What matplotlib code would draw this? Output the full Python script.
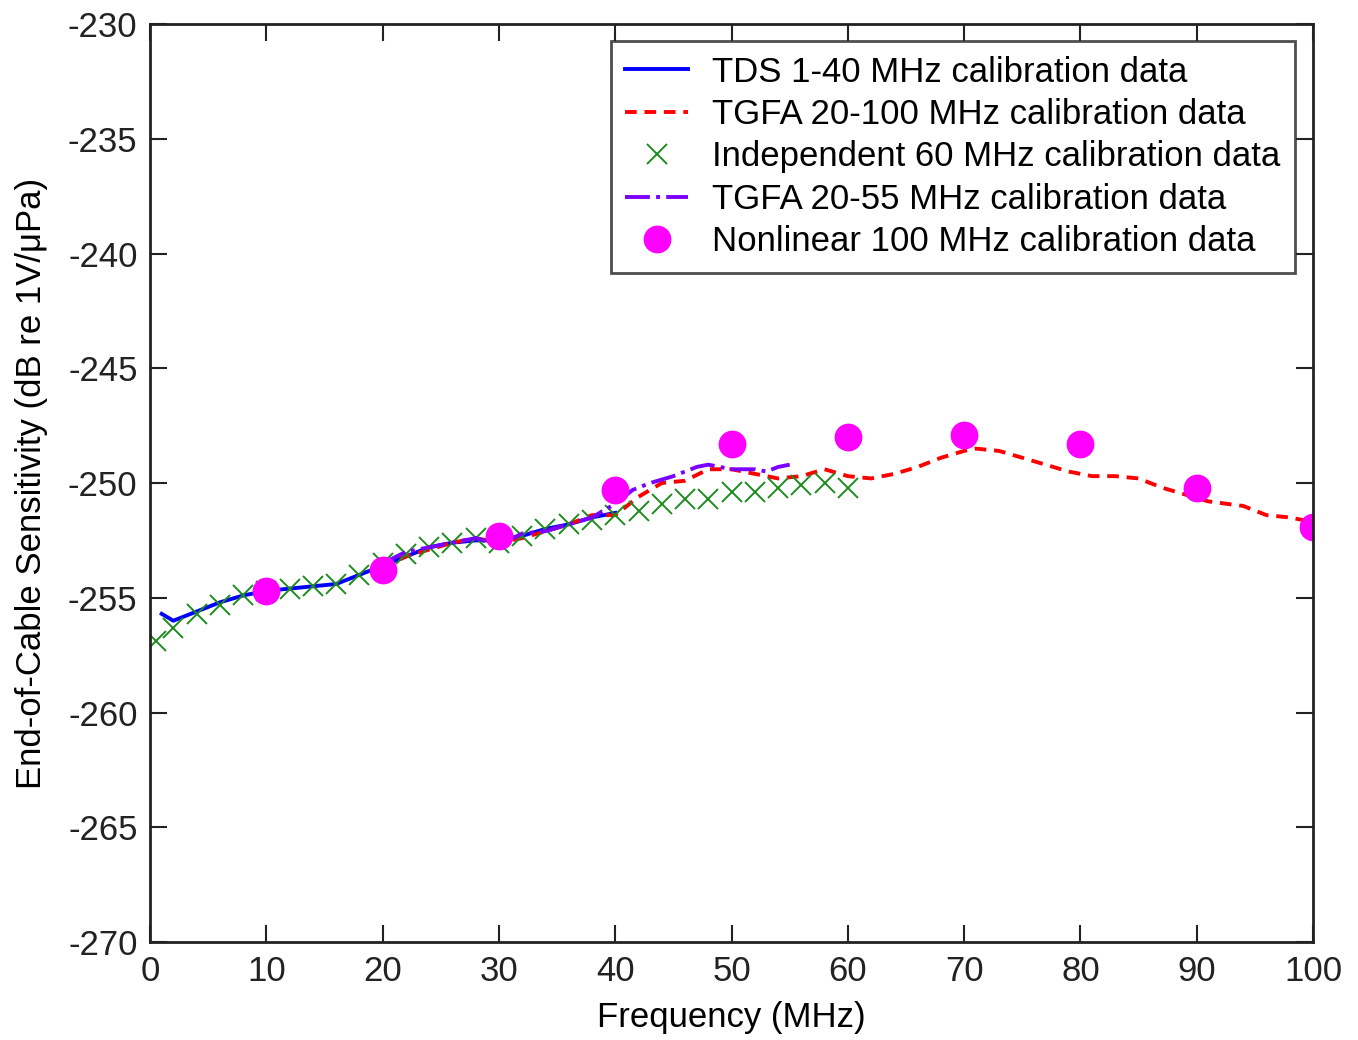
import numpy as np
import matplotlib
matplotlib.use("Agg")
import matplotlib.pyplot as plt

plt.rcParams['font.family'] = ['Liberation Sans Narrow', 'Liberation Sans', 'DejaVu Sans']
plt.rcParams['axes.unicode_minus'] = False

############################################
# data
############################################

# TDS 1-40 MHz
tds_f = [1, 2, 4, 6, 8, 10, 12, 14, 16, 18, 20, 22, 24, 26, 28, 30, 32, 34, 36, 38, 40]
tds_db = [-255.7, -256.0, -255.6, -255.2, -254.9, -254.7, -254.6, -254.5, -254.4, -254.0,
          -253.6, -253.2, -252.8, -252.6, -252.5, -252.5, -252.3, -252.0, -251.8, -251.5, -251.3]

# TGFA 20-100 MHz
tgfa_f = [20, 22, 24, 26, 28, 30, 32, 34, 36, 38, 40, 42, 44, 46, 48, 50, 52, 54, 56, 58, 60,
          62, 64, 66, 68, 70, 71, 73, 75, 77, 79, 81, 83, 85, 87, 89, 91, 94, 96, 98, 100]
tgfa_db = [-253.7, -253.2, -252.9, -252.6, -252.4, -252.6, -252.4, -252.1, -251.8, -251.4,
           -251.4, -250.6, -250.0, -249.9, -249.4, -249.4, -249.6, -249.8, -249.7, -249.4, -249.7,
           -249.8, -249.6, -249.3, -248.9, -248.6, -248.5, -248.6, -248.9, -249.2, -249.5,
           -249.7, -249.7, -249.8, -250.2, -250.5, -250.8, -251.0, -251.4, -251.5, -251.7]

# independent 60 MHz
ind_f = [0.5, 2, 4, 6, 8, 10, 12, 14, 16, 18, 20, 22, 24, 26, 28, 30, 32, 34, 36, 38, 40,
         42, 44, 46, 48, 50, 52, 54, 56, 58, 60]
ind_db = [-256.9, -256.3, -255.7, -255.3, -254.9, -254.7, -254.6, -254.5, -254.4, -254.0,
          -253.5, -253.1, -252.8, -252.6, -252.4, -252.6, -252.3, -252.0, -251.8, -251.6, -251.4,
          -251.2, -250.9, -250.7, -250.7, -250.4, -250.4, -250.2, -250.1, -250.0, -250.2]

# TGFA 20-55 MHz
tgfa2_f = [20, 22, 24, 26, 28, 30, 32, 34, 36, 38, 40, 41.5, 43, 45, 47, 48, 50, 52, 53, 54, 55]
tgfa2_db = [-253.5, -253.0, -252.8, -252.6, -252.4, -252.7, -252.2, -252.1, -251.8, -251.5,
            -250.9, -250.3, -250.0, -249.7, -249.3, -249.2, -249.4, -249.4, -249.5, -249.3, -249.2]

# nonlinear 100 MHz
nl_f = [10, 20, 30, 40, 50, 60, 70, 80, 90, 100]
nl_db = [-254.7, -253.8, -252.3, -250.3, -248.3, -248.0, -247.9, -248.3, -250.2, -251.9]

############################################
# plot
############################################

fig = plt.figure(figsize=(13.58, 10.40), dpi=100)
ax = fig.add_axes([0.1105, 0.0942, 0.8564, 0.8827])

ax.plot(tds_f, tds_db, '-', color='#0000ff', lw=2.8, label='TDS 1-40 MHz calibration data')
ax.plot(tgfa_f, tgfa_db, '--', color='#ff0000', lw=2.8, dashes=(3, 2),
        label='TGFA 20-100 MHz calibration data')
ax.plot(ind_f, ind_db, 'x', color='#1e8c1e', ms=14, mew=1.4, label='Independent 60 MHz calibration data')
ax.plot(tgfa2_f, tgfa2_db, '-.', color='#7a00ff', lw=2.8, label='TGFA 20-55 MHz calibration data')
ax.plot(nl_f, nl_db, 'o', color='#ff00ff', ms=19, label='Nonlinear 100 MHz calibration data')

ax.set_xlim(0, 100)
ax.set_ylim(-270, -230)
ax.set_xticks(np.arange(0, 101, 10))
ax.set_yticks(np.arange(-270, -229, 5))
ax.tick_params(direction='in', length=12, width=1.5, top=True, right=True,
               labelsize=25, pad=9, colors='#222222')
for s in ax.spines.values():
    s.set_linewidth(2)
    s.set_color('#222222')

ax.set_xlabel('Frequency (MHz)', fontsize=25, labelpad=10)
ax.set_ylabel('End-of-Cable Sensitivity (dB re 1V/μPa)', fontsize=25, labelpad=14)

leg = ax.legend(loc='upper right', bbox_to_anchor=(0.9845, 0.9815), fontsize=25,
                frameon=True, fancybox=False, edgecolor='#222222', borderpad=0.42,
                labelspacing=0.27, handlelength=1.8, handletextpad=0.7, borderaxespad=0)
leg.get_frame().set_linewidth(2)

fig.savefig('out.png', dpi=100)
